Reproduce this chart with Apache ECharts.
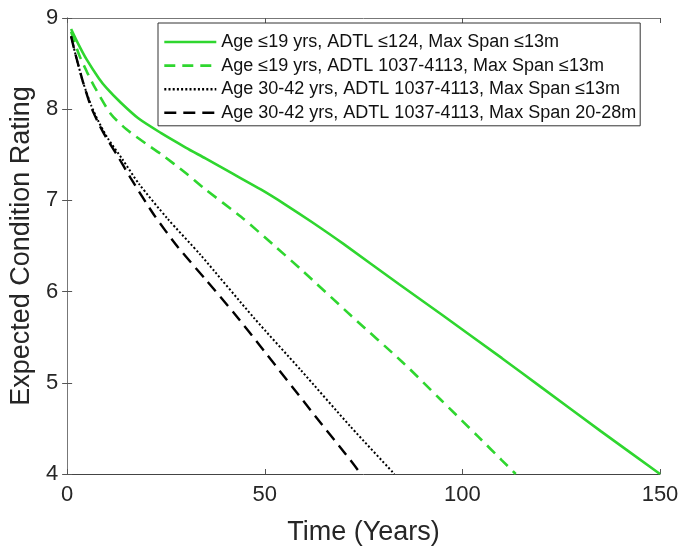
<!DOCTYPE html>
<html>
<head>
<meta charset="utf-8">
<script src="https://cdn.jsdelivr.net/npm/echarts@6/dist/echarts.min.js"></script>
<style>html,body{margin:0;padding:0;background:#fff;}#c{width:683px;height:553px;}</style>
</head>
<body>
<div id="c"></div>
<script>
var seriesNames = [
  'Age \u226419 yrs, ADTL \u2264124, Max Span \u226413m',
  'Age \u226419 yrs, ADTL 1037-4113, Max Span \u226413m',
  'Age 30-42 yrs, ADTL 1037-4113, Max Span \u226413m',
  'Age 30-42 yrs, ADTL 1037-4113, Max Span 20-28m'
];
var xTicks = [0, 50, 100, 150];
var yTicks = [4, 5, 6, 7, 8, 9];

var s1X = [1, 3, 5, 8, 10, 13.6, 18, 23.7, 30, 35, 42, 49, 55, 62, 70, 84, 95, 110, 120, 135, 150];
var s1Y = [8.88, 8.70, 8.54, 8.34, 8.23, 8.07, 7.90, 7.74, 7.58, 7.46, 7.29, 7.12, 6.96, 6.76, 6.52, 6.08, 5.74, 5.27, 4.95, 4.47, 4.0];

var s2X = [1, 3, 5, 7, 11, 15, 20, 23.7, 30, 34.7, 44, 52, 59, 72, 85, 94.4, 104, 110, 113.5];
var s2Y = [8.85, 8.60, 8.41, 8.24, 7.95, 7.78, 7.62, 7.51, 7.30, 7.13, 6.82, 6.52, 6.25, 5.73, 5.22, 4.82, 4.41, 4.15, 4.0];

var s3X = [1, 2, 4, 6.1, 8, 10.3, 14, 18.2, 25.4, 33.8, 47.3, 59.1, 71.7, 82.8];
var s3Y = [8.80, 8.62, 8.30, 8.04, 7.86, 7.68, 7.45, 7.18, 6.80, 6.40, 5.71, 5.14, 4.52, 4.0];

var s4X = [1, 2, 4, 6, 8, 10, 12.6, 16, 22, 28, 35.1, 42.3, 50, 61.6, 71.7, 74.3];
var s4Y = [8.80, 8.62, 8.30, 8.03, 7.84, 7.68, 7.50, 7.25, 6.84, 6.49, 6.13, 5.76, 5.34, 4.70, 4.15, 4.0];

function pairs(xs, ys) { return xs.map(function (x, i) { return [x, ys[i]]; }); }

var FONT = '"Liberation Sans", Arial, Helvetica, sans-serif';
var GREEN = '#2fd62f';

var chart = echarts.init(document.getElementById('c'), null, {renderer: 'canvas'});

function mkSeries(name, data, color, width, dash) {
  return {
    name: name, type: 'line', data: data, symbol: 'none', showSymbol: false,
    smooth: 0.25, clip: true,
    lineStyle: {color: color, width: width, type: dash},
    itemStyle: {color: color},
    emphasis: {disabled: true}, silent: true, animation: false
  };
}

var baseAxis = {
  axisLine: {show: true, lineStyle: {color: '#555', width: 1}},
  axisTick: {show: true, inside: true, length: 5, lineStyle: {color: '#555'}},
  splitLine: {show: false}
};

chart.setOption({
  animation: false,
  backgroundColor: '#fff',
  textStyle: {fontFamily: FONT},
  grid: {left: 66, right: 23, top: 18, bottom: 79, containLabel: false},
  legend: {
    show: true, orient: 'vertical', left: 158, top: 23,
    data: seriesNames,
    itemWidth: 52, itemHeight: 14, itemGap: 3.6,
    padding: [9, 4, 3, 5],
    itemStyle: {opacity: 0},
    lineStyle: {width: 2.6},
    backgroundColor: '#fff', borderColor: '#333', borderWidth: 1,
    textStyle: {fontFamily: FONT, fontSize: 18, color: '#111', lineHeight: 20},
    selectedMode: false
  },
  xAxis: [
    Object.assign({}, baseAxis, {
      type: 'value', min: 0, max: 150, interval: 50, position: 'bottom',
      axisLine: {show: true, lineStyle: {color: '#444', width: 1}},
      axisLabel: {show: true, fontSize: 22, color: '#262626', fontFamily: FONT, margin: 10,
        formatter: function (v) { return xTicks.indexOf(v) >= 0 ? String(v) : ''; }},
      name: 'Time (Years)', nameLocation: 'middle', nameGap: 45,
      nameTextStyle: {fontSize: 27, color: '#262626', fontFamily: FONT}
    }),
    Object.assign({}, baseAxis, {
      type: 'value', min: 0, max: 150, interval: 50, position: 'top',
      axisLine: {show: true, lineStyle: {color: '#777', width: 1}},
      axisLabel: {show: false}
    })
  ],
  yAxis: [
    Object.assign({}, baseAxis, {
      type: 'value', min: 4, max: 9, interval: 1, position: 'left',
      axisLine: {show: true, lineStyle: {color: '#777', width: 1}},
      axisLabel: {show: true, fontSize: 22, color: '#262626', fontFamily: FONT, margin: 9,
        formatter: function (v) { return yTicks.indexOf(v) >= 0 ? String(v) : ''; }},
      name: 'Expected Condition Rating', nameLocation: 'middle', nameGap: 30,
      nameTextStyle: {fontSize: 27, color: '#262626', fontFamily: FONT}
    }),
    Object.assign({}, baseAxis, {
      type: 'value', min: 4, max: 9, interval: 1, position: 'right',
      axisLine: {show: true, lineStyle: {color: '#777', width: 1}},
      axisLabel: {show: false}
    })
  ],
  series: [
    mkSeries(seriesNames[0], pairs(s1X, s1Y), GREEN, 2.6, 'solid'),
    mkSeries(seriesNames[1], pairs(s2X, s2Y), GREEN, 2.6, [11, 7]),
    mkSeries(seriesNames[2], pairs(s3X, s3Y), '#000', 2, [2, 2.2]),
    mkSeries(seriesNames[3], pairs(s4X, s4Y), '#000', 2.4, [12, 7])
  ]
});
</script>
</body>
</html>
